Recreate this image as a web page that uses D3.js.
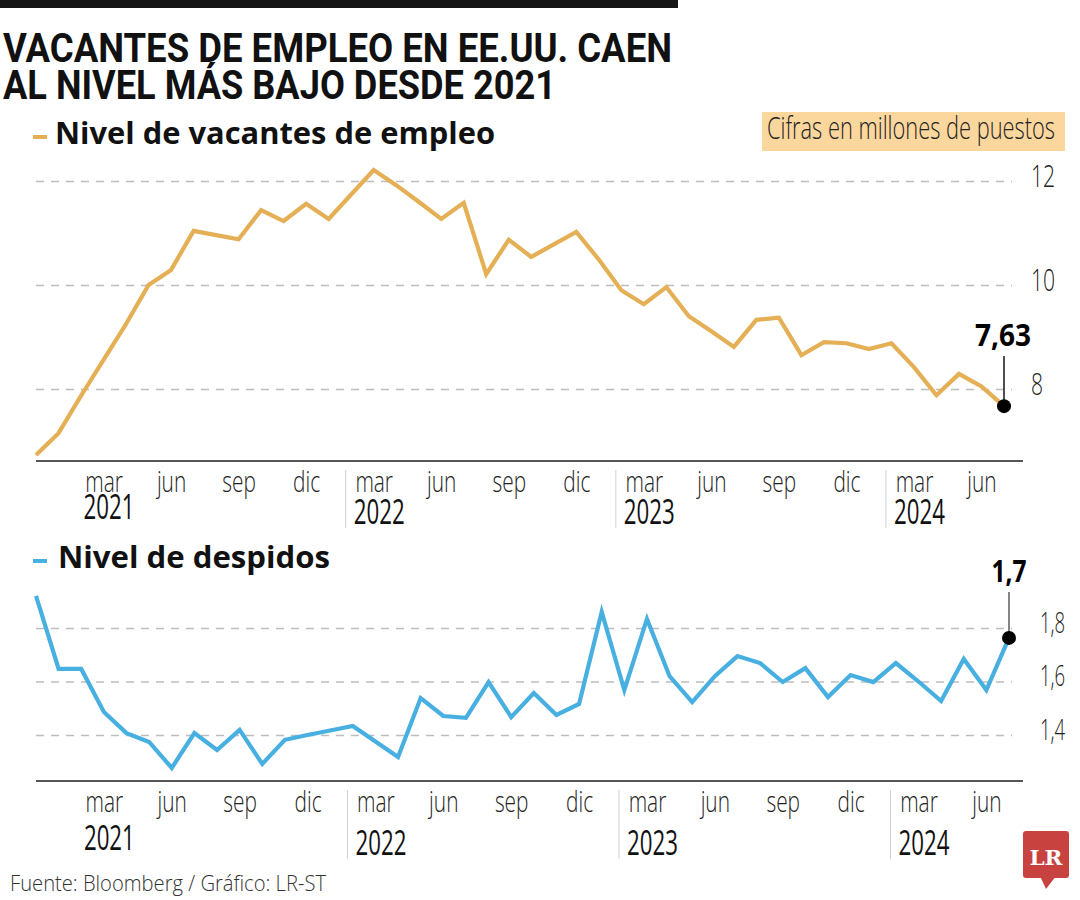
<!DOCTYPE html>
<html><head><meta charset="utf-8">
<script src="https://cdn.jsdelivr.net/npm/d3@7"></script>
<style>body{margin:0;background:#fff}svg{display:block}</style>
</head><body>
<svg id="c" width="1080" height="900"></svg>
<script>
// ---------- DATA ----------
const months = d3.timeMonth.range(new Date(2020, 11, 1), new Date(2024, 7, 1)).map(d3.timeFormat("%Y-%m")); // Dec 2020 .. Jul 2024
const vacantes = [6.73, 7.15, 7.87, 8.56, 9.25, 10.0, 10.29, 11.04, 10.96, 10.88, 11.44, 11.23,
  11.56, 11.27, 11.74, 12.21, 11.92, 11.6, 11.27, 11.58, 10.21, 10.87, 10.54, 10.78,
  11.02, 10.49, 9.90, 9.63, 9.96, 9.40, 9.11, 8.81, 9.33, 9.37, 8.65, 8.90,
  8.88, 8.77, 8.88, 8.42, 7.88, 8.29, 8.05, 7.67];
const despidos = [1.92, 1.647, 1.647, 1.486, 1.407, 1.374, 1.277, 1.407, 1.344, 1.419, 1.292, 1.382,
  1.40, 1.417, 1.434, 1.376, 1.318, 1.538, 1.471, 1.464, 1.598, 1.467, 1.557, 1.475,
  1.516, 1.86, 1.568, 1.834, 1.62, 1.523, 1.62, 1.695, 1.669, 1.598, 1.65, 1.542,
  1.624, 1.598, 1.669, 1.60, 1.527, 1.684, 1.568, 1.763];
const tickMonths = ["2021-03","2021-06","2021-09","2021-12","2022-03","2022-06","2022-09","2022-12",
  "2023-03","2023-06","2023-09","2023-12","2024-03","2024-06"];
const tickLabels = ["mar","jun","sep","dic","mar","jun","sep","dic","mar","jun","sep","dic","mar","jun"];
const years = ["2021","2022","2023","2024"];
const yearMonths = ["2021-03","2022-03","2023-03","2024-03"];
const vacTicks = [8, 10, 12];
const vacTickLabels = ["8", "10", "12"];
const despTicks = [1.4, 1.6, 1.8];
const despTickLabels = ["1,4", "1,6", "1,8"];
const vacLabel = "7,63";
const despLabel = "1,7";

// ---------- CHART ----------
const svg = d3.select("#c");
const ORANGE = "#e4af55", BLUE = "#48afe1";
const LIGHT = "'Open Sans', 'Noto Sans', sans-serif";

svg.append("rect").attr("x", 0).attr("y", 0).attr("width", 678).attr("height", 8).attr("fill", "#151515");

const title = ["VACANTES DE EMPLEO EN EE.UU. CAEN", "AL NIVEL MÁS BAJO DESDE 2021"];
const titleW = [669, 553];
title.forEach((t, i) => {
  svg.append("text").attr("x", 3).attr("y", 62 + i * 37)
    .attr("font-family", "Roboto, 'Open Sans', sans-serif").attr("font-weight", 700)
    .attr("font-size", 41).attr("fill", "#111")
    .attr("textLength", titleW[i]).attr("lengthAdjust", "spacingAndGlyphs").text(t);
});

// Cifras box
svg.append("rect").attr("x", 762).attr("y", 112).attr("width", 303).attr("height", 39).attr("fill", "#fbd69d");
svg.append("text").attr("x", 767).attr("y", 139).attr("font-family", LIGHT).attr("font-weight", 300)
  .attr("font-size", 31).attr("fill", "#222").attr("textLength", 288).attr("lengthAdjust", "spacingAndGlyphs")
  .text("Cifras en millones de puestos");

function legend(y, color, text, w) {
  svg.append("rect").attr("x", 33).attr("y", y - 2).attr("width", 14).attr("height", 4).attr("fill", color);
  svg.append("text").attr("x", color === ORANGE ? 55 : 58).attr("y", y + 7)
    .attr("font-family", "'Open Sans', 'Noto Sans', sans-serif").attr("font-weight", 700)
    .attr("font-size", 31).attr("fill", "#111")
    .attr("textLength", w).attr("lengthAdjust", "spacingAndGlyphs").text(text);
}

function panel(cfg) {
  const x = d3.scalePoint().domain(months).range(cfg.xr);
  const y = d3.scaleLinear().domain(cfg.yd).range(cfg.yr);
  const g = svg.append("g");

  // grid + y labels
  const ya = d3.axisRight(y).tickValues(cfg.ticks).tickSize(976)
    .tickFormat((d, i) => cfg.tickLabels[i]);
  const yg = g.append("g").attr("transform", `translate(36,0)`).call(ya);
  yg.select(".domain").remove();
  yg.selectAll(".tick line").attr("stroke", "#bdbdbd").attr("stroke-width", 1.5).attr("stroke-dasharray", "8,7");
  yg.selectAll(".tick text").attr("x", null).attr("dy", null)
    .attr("font-family", LIGHT).attr("font-weight", 300).attr("font-size", cfg.yfs).attr("fill", "#222")
    .attr("transform", `translate(${cfg.ylx - 36},${cfg.yldy}) scale(${cfg.ysx},1)`);

  // baseline
  g.append("line").attr("x1", 36).attr("x2", 1023).attr("y1", cfg.base).attr("y2", cfg.base)
    .attr("stroke", "#555").attr("stroke-width", 2);

  // x labels
  const xa = d3.axisBottom(x).tickValues(tickMonths).tickSize(0).tickFormat((d, i) => tickLabels[i]);
  const xg = g.append("g").attr("transform", `translate(0,${cfg.base})`).call(xa);
  xg.select(".domain").remove();
  xg.selectAll(".tick text").attr("y", null).attr("dy", null)
    .attr("font-family", LIGHT).attr("font-weight", 300).attr("font-size", 29).attr("fill", "#222")
    .attr("transform", `translate(0,${cfg.mOff}) scale(0.72,1)`);

  // years + separators
  years.forEach((yr, i) => {
    const mx = x(yearMonths[i]);
    g.append("text").attr("x", mx - 20).attr("y", cfg.base + (i === 0 ? cfg.y1Off : cfg.yOff))
      .attr("font-family", LIGHT).attr("font-weight", 400).attr("font-size", 35).attr("fill", "#111")
      .attr("textLength", 51).attr("lengthAdjust", "spacingAndGlyphs").text(yr);
    if (i > 0) {
      g.append("line").attr("x1", mx - 28).attr("x2", mx - 28)
        .attr("y1", cfg.base + 9).attr("y2", cfg.base + cfg.sepLen)
        .attr("stroke", "#d0d0d0").attr("stroke-width", 1);
    }
  });

  // line
  const line = d3.line().x((d, i) => x(months[i])).y(d => y(d));
  g.append("path").datum(cfg.data).attr("d", line).attr("fill", "none")
    .attr("stroke", cfg.color).attr("stroke-width", 4.2).attr("stroke-linejoin", "miter");

  // annotation
  const lx = x(months[months.length - 1]), ly = y(cfg.data[cfg.data.length - 1]);
  g.append("line").attr("x1", lx).attr("x2", lx).attr("y1", cfg.annY + 10).attr("y2", ly)
    .attr("stroke", cfg.annStroke).attr("stroke-width", 1.6);
  g.append("circle").attr("cx", lx).attr("cy", ly).attr("r", 7).attr("fill", "#000");
  g.append("text").attr("x", lx - cfg.annW / 2 + cfg.annDx).attr("y", cfg.annY)
    .attr("font-family", "'Open Sans', sans-serif").attr("font-weight", 700).attr("font-size", 31)
    .attr("fill", "#000").attr("textLength", cfg.annW).attr("lengthAdjust", "spacingAndGlyphs").text(cfg.ann);
}

legend(137, ORANGE, "Nivel de vacantes de empleo", 440);
panel({
  xr: [36, 1004], yd: [8, 12], yr: [389, 181], ticks: vacTicks, tickLabels: vacTickLabels,
  yfs: 32, ysx: 0.66, ylx: 1031, yldy: 5, base: 461, mOff: 31, y1Off: 58, yOff: 63, sepLen: 67,
  data: vacantes, color: ORANGE, ann: vacLabel, annY: 346, annW: 56, annDx: -1, annStroke: "#222"
});

legend(561, BLUE, "Nivel de despidos", 272);
panel({
  xr: [36, 1009], yd: [1.4, 1.8], yr: [735, 628], ticks: despTicks, tickLabels: despTickLabels,
  yfs: 30, ysx: 0.62, ylx: 1040, yldy: 4, base: 781, mOff: 31, y1Off: 69, yOff: 74, sepLen: 78,
  data: despidos, color: BLUE, ann: despLabel, annY: 582, annW: 35, annDx: 0, annStroke: "#666"
});

// footer
svg.append("text").attr("x", 10).attr("y", 891).attr("font-family", LIGHT).attr("font-weight", 300)
  .attr("font-size", 22).attr("fill", "#333").attr("textLength", 316).attr("lengthAdjust", "spacingAndGlyphs")
  .text("Fuente: Bloomberg / Gráfico: LR-ST");

// LR logo
const logo = svg.append("g");
logo.append("rect").attr("x", 1023).attr("y", 831).attr("width", 46).attr("height", 47).attr("rx", 3).attr("fill", "#c8433f");
logo.append("path").attr("d", "M1040,876 L1046,889 L1056,876 Z").attr("fill", "#c8433f");
logo.append("text").attr("x", 1046).attr("y", 865).attr("text-anchor", "middle")
  .attr("font-family", "'DejaVu Serif', 'Liberation Serif', serif").attr("font-weight", 700)
  .attr("font-size", 21).attr("fill", "#fff").attr("textLength", 33).attr("lengthAdjust", "spacingAndGlyphs").text("LR");
</script>
</body></html>
